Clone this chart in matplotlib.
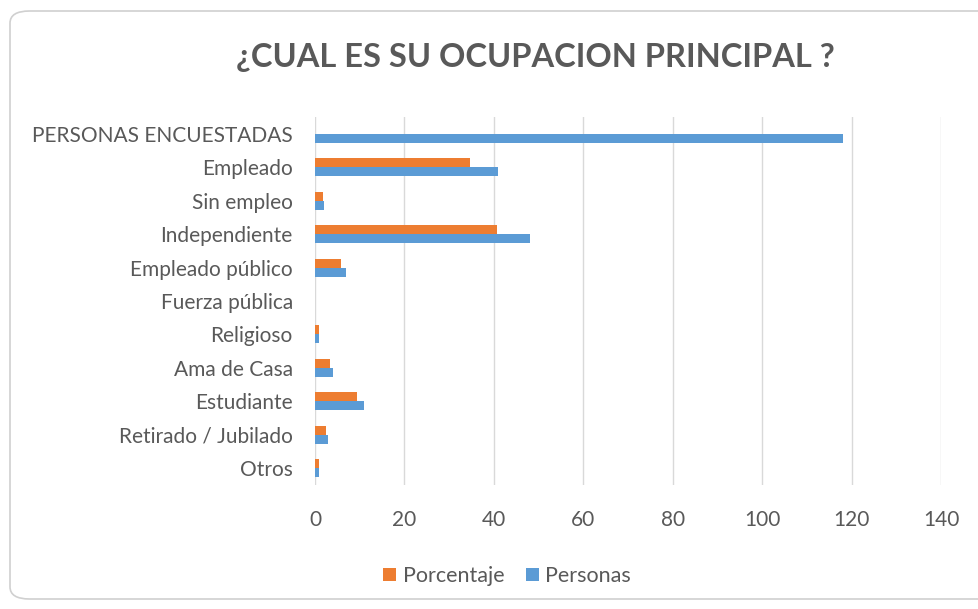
import matplotlib.pyplot as plt
import numpy as np
from matplotlib.patches import FancyBboxPatch

categorias = ["PERSONAS ENCUESTADAS", "Empleado", "Sin empleo", "Independiente",
              "Empleado público", "Fuerza pública", "Religioso", "Ama de Casa",
              "Estudiante", "Retirado / Jubilado", "Otros"]
personas = [118, 41, 2, 48, 7, 0, 1, 4, 11, 3, 1]
porcentaje = [0, 34.7, 1.7, 40.7, 5.9, 0, 0.8, 3.4, 9.3, 2.5, 0.8]
ticks_x = [0, 20, 40, 60, 80, 100, 120, 140]

plt.rcParams['font.family'] = ['Lato', 'DejaVu Sans']
gris = "#595959"

fig = plt.figure(figsize=(9.79, 6.09), dpi=100)
marco = FancyBboxPatch((10 / 979, 10 / 609), 990 / 979, 588 / 609,
                       boxstyle="round,pad=0,rounding_size=0.02",
                       transform=fig.transFigure, facecolor="white",
                       edgecolor="#d0d0d0", linewidth=1.2, zorder=-10)
fig.patches.append(marco)

ax = fig.add_axes([315 / 979, 1 - 485 / 609, 626 / 979, 368 / 609])
ax.set_facecolor("none")
y = np.arange(len(categorias))
h = 0.27
ax.barh(y - h / 2, porcentaje, height=h, color="#ED7D31", label="Porcentaje")
ax.barh(y + h / 2, personas, height=h, color="#5B9BD5", label="Personas")

ax.set_ylim(len(categorias) - 0.5, -0.5)
ax.set_xlim(0, 140)
ax.set_xticks(ticks_x)
ax.set_yticks(y)
ax.set_yticklabels(categorias)
ax.tick_params(axis="both", length=0, labelsize=15, colors=gris)
ax.tick_params(axis="x", pad=18)
ax.tick_params(axis="y", pad=16)
ax.grid(axis="x", color="#d9d9d9", linewidth=1)
ax.set_axisbelow(True)
for s in ax.spines.values():
    s.set_visible(False)

fig.text(535 / 979, 1 - 58 / 609, "¿CUAL ES SU OCUPACION PRINCIPAL ?",
         ha="center", va="center", fontsize=23.5, fontweight="bold", color=gris)

handles, labels = ax.get_legend_handles_labels()
fig.legend(handles, labels, loc="center", bbox_to_anchor=(507 / 979, 1 - 576 / 609),
           ncol=2, frameon=False, fontsize=15.5, labelcolor=gris,
           handlelength=0.6, handleheight=0.6, handletextpad=0.3, columnspacing=1.0)

fig.savefig("out.png", dpi=100)
